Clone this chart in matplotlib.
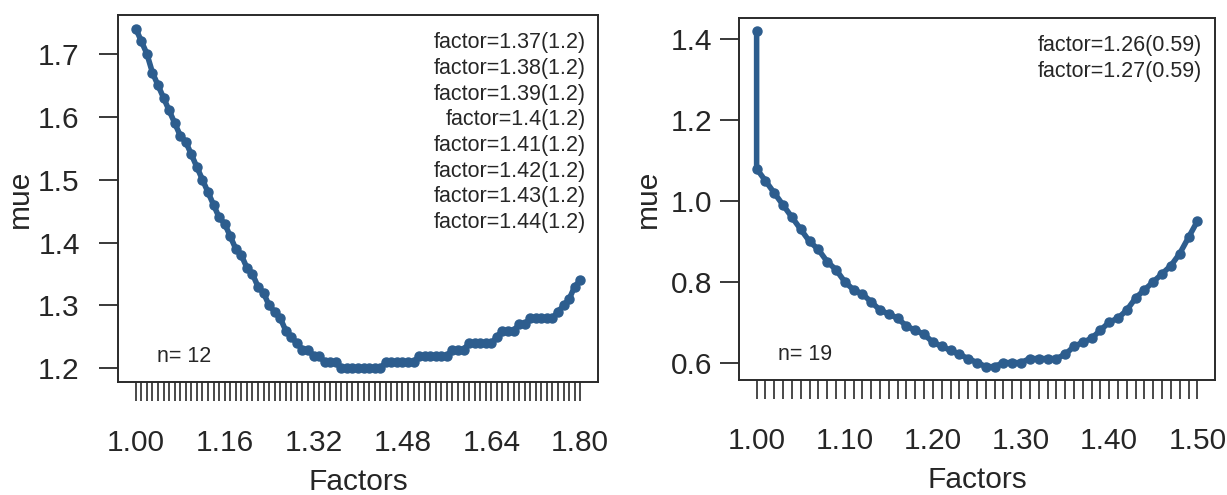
import matplotlib
matplotlib.use("Agg")
import matplotlib.pyplot as plt
from matplotlib.ticker import FixedLocator, NullFormatter

plt.rcParams['font.family'] = ['Liberation Sans', 'DejaVu Sans']

# ---------------- data ----------------
left_factors = [1.00, 1.01, 1.02, 1.03, 1.04, 1.05, 1.06, 1.07, 1.08, 1.09,
                1.10, 1.11, 1.12, 1.13, 1.14, 1.15, 1.16, 1.17, 1.18, 1.19,
                1.20, 1.21, 1.22, 1.23, 1.24, 1.25, 1.26, 1.27, 1.28, 1.29,
                1.30, 1.31, 1.32, 1.33, 1.34, 1.35, 1.36, 1.37, 1.38, 1.39,
                1.40, 1.41, 1.42, 1.43, 1.44, 1.45, 1.46, 1.47, 1.48, 1.49,
                1.50, 1.51, 1.52, 1.53, 1.54, 1.55, 1.56, 1.57, 1.58, 1.59,
                1.60, 1.61, 1.62, 1.63, 1.64, 1.65, 1.66, 1.67, 1.68, 1.69,
                1.70, 1.71, 1.72, 1.73, 1.74, 1.75, 1.76, 1.77, 1.78, 1.79,
                1.80]
left_mue = [1.74, 1.72, 1.70, 1.67, 1.65, 1.63, 1.61, 1.59, 1.57, 1.56,
            1.54, 1.52, 1.50, 1.48, 1.46, 1.44, 1.43, 1.41, 1.39, 1.38,
            1.36, 1.35, 1.33, 1.32, 1.30, 1.29, 1.28, 1.26, 1.25, 1.24,
            1.23, 1.23, 1.22, 1.22, 1.21, 1.21, 1.21, 1.20, 1.20, 1.20,
            1.20, 1.20, 1.20, 1.20, 1.20, 1.21, 1.21, 1.21, 1.21, 1.21,
            1.21, 1.22, 1.22, 1.22, 1.22, 1.22, 1.22, 1.23, 1.23, 1.23,
            1.24, 1.24, 1.24, 1.24, 1.24, 1.25, 1.26, 1.26, 1.26, 1.27,
            1.27, 1.28, 1.28, 1.28, 1.28, 1.28, 1.29, 1.30, 1.31, 1.33,
            1.34]
left_xtick_labels = ["1.00", "1.16", "1.32", "1.48", "1.64", "1.80"]
left_ytick_values = [1.2, 1.3, 1.4, 1.5, 1.6, 1.7]
left_notes = ["factor=1.37(1.2)", "factor=1.38(1.2)", "factor=1.39(1.2)",
              "factor=1.4(1.2)", "factor=1.41(1.2)", "factor=1.42(1.2)",
              "factor=1.43(1.2)", "factor=1.44(1.2)"]
left_n = "n= 12"

right_factors = [1.00, 1.00, 1.01, 1.02, 1.03, 1.04, 1.05, 1.06, 1.07, 1.08,
                 1.09, 1.10, 1.11, 1.12, 1.13, 1.14, 1.15, 1.16, 1.17, 1.18,
                 1.19, 1.20, 1.21, 1.22, 1.23, 1.24, 1.25, 1.26, 1.27, 1.28,
                 1.29, 1.30, 1.31, 1.32, 1.33, 1.34, 1.35, 1.36, 1.37, 1.38,
                 1.39, 1.40, 1.41, 1.42, 1.43, 1.44, 1.45, 1.46, 1.47, 1.48,
                 1.49, 1.50]
right_mue = [1.42, 1.08, 1.05, 1.02, 0.99, 0.96, 0.93, 0.90, 0.88, 0.85,
             0.83, 0.80, 0.78, 0.77, 0.75, 0.73, 0.72, 0.71, 0.69, 0.68,
             0.67, 0.65, 0.64, 0.63, 0.62, 0.61, 0.60, 0.59, 0.59, 0.60,
             0.60, 0.60, 0.61, 0.61, 0.61, 0.61, 0.62, 0.64, 0.65, 0.66,
             0.68, 0.70, 0.71, 0.73, 0.76, 0.78, 0.80, 0.82, 0.84, 0.87,
             0.91, 0.95]
right_xtick_labels = ["1.00", "1.10", "1.20", "1.30", "1.40", "1.50"]
right_ytick_values = [0.6, 0.8, 1.0, 1.2, 1.4]
right_notes = ["factor=1.26(0.59)", "factor=1.27(0.59)"]
right_n = "n= 19"

# ---------------- style ----------------
LINE_COLOR = "#2d5d8e"
TXT = "#262626"
AX_FS = 21.5
NOTE_FS = 15.5

fig = plt.figure(figsize=(12.27, 4.95), dpi=100)
W, H = 1227, 495


def make_axes(box, factors, mue, xlabels, yticks, notes, ntext, ypad, ylabel_x):
    l, r, t, b = box
    ax = fig.add_axes([l / W, (H - b) / H, (r - l) / W, (b - t) / H])
    ax.plot(factors, mue, color=LINE_COLOR, lw=4.0, marker='o', ms=6.5,
            mec=LINE_COLOR, mfc=LINE_COLOR, solid_joinstyle='round')
    # R-style 4% range extension
    xs = sorted(set(factors))
    xmin, xmax = min(xs), max(xs)
    dx = (xmax - xmin) * 0.04
    ax.set_xlim(xmin - dx, xmax + dx)
    ymin, ymax = min(mue), max(mue)
    dy = (ymax - ymin) * 0.04
    ax.set_ylim(ymin - dy, ymax + dy)

    ax.xaxis.set_minor_locator(FixedLocator(xs))
    ax.xaxis.set_minor_formatter(NullFormatter())
    ax.set_xticks([float(s) for s in xlabels])
    ax.set_xticklabels(xlabels)
    ax.set_yticks(yticks)
    ax.set_yticklabels([f"{v:.1f}" for v in yticks])

    ax.tick_params(axis='x', which='both', direction='out', length=13.5,
                   width=1.2, color='#2a2a2a', pad=20, labelsize=AX_FS,
                   labelcolor=TXT)
    ax.tick_params(axis='y', which='both', direction='out', length=13.5,
                   width=1.3, color='#2a2a2a', pad=ypad, labelsize=AX_FS,
                   labelcolor=TXT)
    for s in ax.spines.values():
        s.set_linewidth(1.4)
        s.set_color('#2a2a2a')

    ax.set_xlabel("Factors", fontsize=AX_FS, color=TXT, labelpad=8)
    fig.text(ylabel_x / W, 1 - ((t + b) / 2) / H, "mue", rotation=90,
             fontsize=AX_FS, color=TXT, ha='center', va='center')

    for i, s in enumerate(notes):
        ax.annotate(s, xy=(1, 1), xycoords='axes fraction',
                    xytext=(-9, -20 - i * 18.5), textcoords='offset points',
                    ha='right', va='center', fontsize=NOTE_FS, color=TXT)
    ax.annotate(ntext, xy=(0, 0), xycoords='axes fraction',
                xytext=(28, 18), textcoords='offset points',
                ha='left', va='center', fontsize=NOTE_FS, color=TXT)
    return ax


make_axes((118, 598, 15, 382), left_factors, left_mue, left_xtick_labels,
          left_ytick_values, left_notes, left_n, ypad=14, ylabel_x=20)
make_axes((739, 1215, 18, 380), right_factors, right_mue, right_xtick_labels,
          right_ytick_values, right_notes, right_n, ypad=6, ylabel_x=648)

fig.savefig("out.png", dpi=100)
